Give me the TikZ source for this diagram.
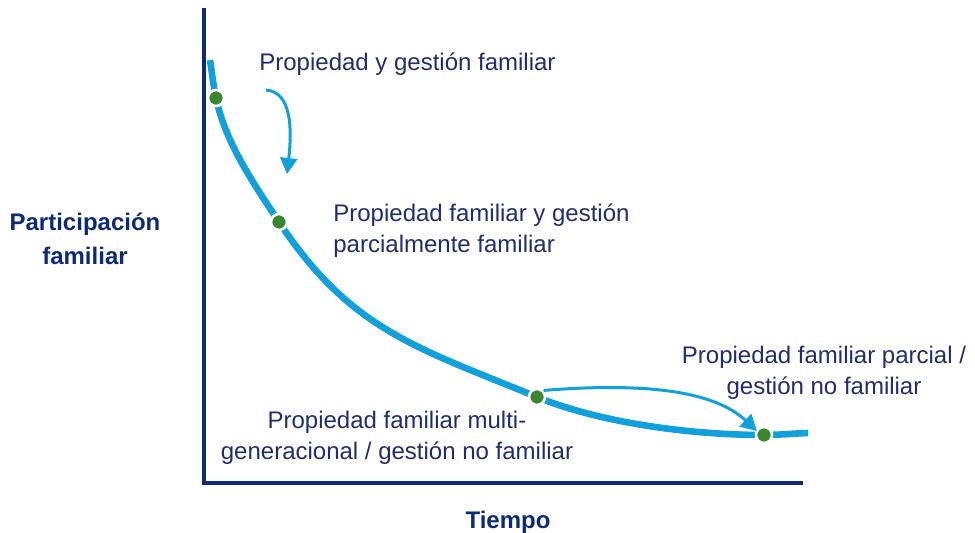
\documentclass[tikz,border=0pt]{standalone}
\usepackage{fontspec}
\setmainfont{Liberation Sans}
\usepackage{xcolor}
\usetikzlibrary{arrows.meta,positioning}

\definecolor{axisblue}{RGB}{12,42,120}
\definecolor{textblue}{RGB}{30,45,110}
\definecolor{curveblue}{RGB}{16,160,220}
\definecolor{dotgreen}{RGB}{58,135,45}

\begin{document}
\begin{tikzpicture}[
    x=0.5pt, y=-0.5pt,
    axis/.style={draw=axisblue, line width=2pt},
    curve/.style={draw=curveblue, line width=3.3pt},
    dot/.style={circle, fill=dotgreen, draw=white, line width=1.3pt,
                minimum size=8pt, inner sep=0pt},
    label/.style={text=textblue, inner sep=0pt, align=left,
                  font=\fontsize{12}{15.5}\selectfont},
    axlabel/.style={text=axisblue, inner sep=0pt, align=center,
                    font=\fontsize{12}{17}\selectfont\bfseries},
    arrow/.style={-{Triangle[width=8.5pt,length=8pt]}, draw=curveblue,
                  line width=1.5pt}
]
\useasboundingbox (0,0) rectangle (975,533);

% axes
\coordinate (top) at (204,8);
\coordinate (origin) at (204,483);
\coordinate (right) at (803,483);
\draw[axis] (top) -- (origin) -- (right);

% stages on the curve
\coordinate (c0) at (210,60);
\coordinate (c1) at (216,98);
\coordinate (c2) at (279,222);
\coordinate (c3) at (537,397);
\coordinate (c4) at (764,435);
\coordinate (c5) at (808,433);

% decay curve
\draw[curve] (c0) .. controls (212,73) and (213.3,85.3) .. (c1)
    .. controls (225.5,143) and (253.7,183.8) .. (c2)
    .. controls (350.5,330) and (416.7,347.6) .. (c3)
    .. controls (601.8,423.6) and (694,435) .. (c4)
    .. controls (779,435) and (793,433.5) .. (c5);

\node[dot] (s1) at (c1) {};
\node[dot] (s2) at (c2) {};
\node[dot] (s3) at (c3) {};
\node[dot] (s4) at (c4) {};

\node[label, anchor=base west] (l1) at (259,71) {Propiedad y gestión familiar};
\node[label, anchor=base west] (l2) at (333,253)
    {Propiedad familiar y gestión\\parcialmente familiar};
\node[label, align=center, anchor=base] (l3) at (397,460)
    {Propiedad familiar multi-\\generacional / gestión no familiar};
\node[label, align=center, anchor=base] (l4) at (824,395)
    {Propiedad familiar parcial /\\gestión no familiar};

\node[axlabel, anchor=base] (ylab) at (85,265) {Participación\\familiar};
\node[axlabel, anchor=base] (xlab) at (508,529) {Tiempo};

% transitions
\coordinate (a1) at (266,90);
\coordinate (b1) at (287,174);
\draw[arrow] (a1) .. controls (292,92) and (292,130) .. (b1);
\coordinate (b2) at (757,431);
\draw[arrow] (s3.north east) .. controls (650,382) and (715,392) .. (b2);
\end{tikzpicture}
\end{document}
